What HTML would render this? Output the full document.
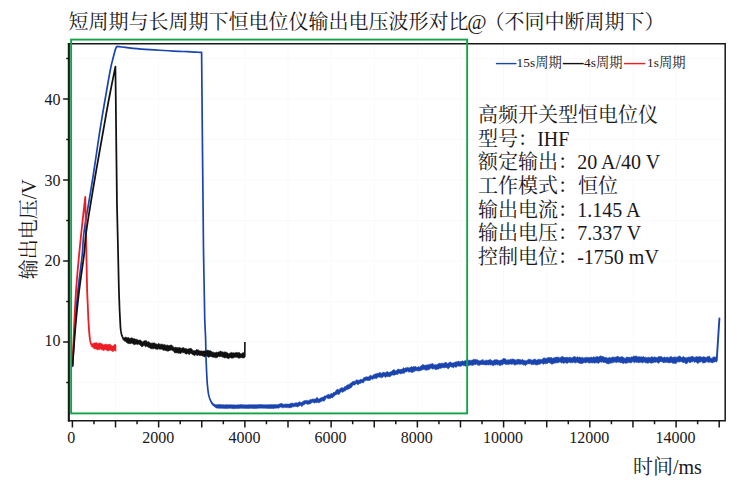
<!DOCTYPE html>
<html lang="zh"><head><meta charset="utf-8"><title>恒电位仪输出电压波形对比</title>
<style>html,body{margin:0;padding:0;background:#fff;}body{width:740px;height:480px;overflow:hidden;font-family:"Liberation Serif",serif;}svg{display:block}</style>
</head><body>
<svg width="740" height="480" viewBox="0 0 740 480" font-family="'Liberation Serif', 'Noto Serif CJK SC', serif">
<rect width="740" height="480" fill="#fff"/>
<path d="M115.52 43.7V420.7M158.64 43.7V420.7M201.76 43.7V420.7M244.88 43.7V420.7M288 43.7V420.7M331.12 43.7V420.7M374.24 43.7V420.7M417.36 43.7V420.7M460.48 43.7V420.7M503.6 43.7V420.7M546.72 43.7V420.7M589.84 43.7V420.7M632.96 43.7V420.7M676.08 43.7V420.7M69.4 382.4H725.2M69.4 341.9H725.2M69.4 301.4H725.2M69.4 260.9H725.2M69.4 220.4H725.2M69.4 179.9H725.2M69.4 139.4H725.2M69.4 98.9H725.2M69.4 58.4H725.2" stroke="#f9f9fc" stroke-width="1" fill="none"/>
<path d="M72.4 420.7v6.7M93.96 420.7v3.6M115.52 420.7v6.7M137.08 420.7v3.6M158.64 420.7v6.7M180.2 420.7v3.6M201.76 420.7v6.7M223.32 420.7v3.6M244.88 420.7v6.7M266.44 420.7v3.6M288 420.7v6.7M309.56 420.7v3.6M331.12 420.7v6.7M352.68 420.7v3.6M374.24 420.7v6.7M395.8 420.7v3.6M417.36 420.7v6.7M438.92 420.7v3.6M460.48 420.7v6.7M482.04 420.7v3.6M503.6 420.7v6.7M525.16 420.7v3.6M546.72 420.7v6.7M568.28 420.7v3.6M589.84 420.7v6.7M611.4 420.7v3.6M632.96 420.7v6.7M654.52 420.7v3.6M676.08 420.7v6.7M697.64 420.7v3.6M719.2 420.7v6.7M69.4 382.4h-3.2M69.4 341.9h-6.3M69.4 301.4h-3.2M69.4 260.9h-6.3M69.4 220.4h-3.2M69.4 179.9h-6.3M69.4 139.4h-3.2M69.4 98.9h-6.3M69.4 58.4h-3.2" stroke="#1a1718" stroke-width="1.5" fill="none"/>
<path d="M67.9 43.7H725.95M67.9 420.7H725.95M725.2 43.7V420.7" stroke="#1a1718" stroke-width="1.5" fill="none"/>
<path d="M68.85 42.95V421.45" stroke="#1a1718" stroke-width="2.1" fill="none"/>
<path d="M72.5 366.3L72.77 361.73L73.13 355.36L73.56 347.84L74.04 339.83L74.53 332L75 325L75.46 318.8L75.92 312.87L76.39 307.11L76.89 301.43L77.42 295.76L78 290L78.65 284.05L79.39 277.96L80.16 271.88L80.91 265.93L81.61 260.25L82.2 255L82.6 250.54L82.83 246.85L83 243.44L83.23 239.81L83.62 235.5L84.3 230L85.32 223.11L86.61 215.19L88.06 206.56L89.59 197.59L91.1 188.62L92.5 180L93.82 171.44L95.14 162.59L96.45 153.75L97.71 145.19L98.9 137.18L100 130L100.97 123.84L101.84 118.52L102.64 113.75L103.4 109.26L104.18 104.77L105 100L105.9 94.77L106.86 89.26L107.82 83.75L108.74 78.52L109.59 73.84L110.3 70L110.88 67.06L111.37 64.81L111.78 63.12L112.11 61.85L112.38 60.86L112.6 60L114.5 52.5L114.85 51.23L115.14 50.22L115.42 49.37L115.7 48.6L116.03 47.88L116.38 47.26L116.68 46.76L116.9 46.4L119.01 46.66L121.86 47.01L125.26 47.44L129.04 47.89L133.02 48.32L137 48.7L141.1 49.03L145.49 49.35L150.07 49.66L154.74 49.95L159.42 50.23L164 50.5L168.69 50.77L173.61 51.03L178.53 51.28L183.21 51.51L187.45 51.72L191 51.9L193.84 52.04L196.14 52.15L197.99 52.24L199.46 52.3L200.64 52.36L201.6 52.4L202.5 150L203.5 250L204.75 320L205.6 338L206.1 360L206.6 372L207.2 383L207.38 384.7L207.62 387.16L207.91 389.79L208.2 392L208.46 393.63L208.73 395L209.03 396.24L209.4 397.5L209.86 398.84L210.4 400.19L210.96 401.44L211.5 402.5L212 403.33L212.47 403.98L212.97 404.52L213.5 405L214.08 405.43L214.69 405.79L215.33 406.07L216 406.3L216.79 406.45L217.66 406.53L218.45 406.57L219 406.6" stroke="#1b45ae" stroke-width="1.7" fill="none" stroke-linejoin="round" stroke-linecap="round"/>
<path d="M211.5 401.88L211.75 402.13L212 402.31L212.25 402.46L212.5 402.75L212.75 403.02L213 403.35L213.25 403.68L213.5 403.85L213.86 403.99L214.21 404.1L214.57 404.28L214.93 404.44L215.29 404.57L215.64 404.64L216 404.76L216.43 404.74L216.86 404.64L217.29 404.61L217.71 404.56L218.14 404.57L218.57 404.53L219 404.51L219.4 404.54L219.8 404.57L220.2 404.6L220.61 404.62L221.01 404.67L221.41 404.69L221.81 404.65L222.21 404.78L222.61 404.63L223.02 404.57L223.42 404.71L223.82 404.72L224.22 404.84L224.62 404.9L225.02 404.78L225.42 404.74L225.83 404.67L226.23 404.63L226.63 404.7L227.03 404.64L227.43 404.64L227.83 404.76L228.23 404.79L228.64 404.85L229.04 404.91L229.44 404.79L229.84 404.68L230.24 404.68L230.64 404.61L231.05 404.71L231.45 404.84L231.85 404.83L232.25 404.87L232.65 404.89L233.05 404.87L233.45 404.83L233.86 404.82L234.26 404.87L234.66 404.93L235.06 405.01L235.46 405.03L235.86 404.95L236.27 404.94L236.67 404.92L237.07 404.85L237.47 404.84L237.87 404.73L238.27 404.7L238.67 404.83L239.08 404.78L239.48 404.85L239.88 404.74L240.28 404.62L240.68 404.56L241.08 404.6L241.48 404.57L241.89 404.63L242.29 404.7L242.69 404.7L243.09 404.73L243.49 404.78L243.89 404.68L244.3 404.79L244.7 404.9L245.1 404.83L245.5 404.8L245.9 404.78L246.3 404.74L246.7 404.91L247.11 404.91L247.51 404.84L247.91 404.74L248.31 404.68L248.71 404.69L249.11 404.77L249.52 404.75L249.92 404.73L250.32 404.69L250.72 404.69L251.12 404.75L251.52 404.69L251.92 404.76L252.33 404.76L252.73 404.76L253.13 404.8L253.53 404.87L253.93 404.84L254.33 404.76L254.73 404.77L255.14 404.7L255.54 404.67L255.94 404.7L256.34 404.7L256.74 404.75L257.14 404.78L257.55 404.69L257.95 404.58L258.35 404.54L258.75 404.6L259.15 404.64L259.55 404.63L259.95 404.58L260.36 404.51L260.76 404.46L261.16 404.46L261.56 404.45L261.96 404.56L262.36 404.68L262.77 404.74L263.17 404.72L263.57 404.65L263.97 404.7L264.37 404.69L264.77 404.7L265.17 404.83L265.58 404.84L265.98 404.87L266.38 404.8L266.78 404.73L267.18 404.65L267.58 404.65L267.98 404.64L268.39 404.66L268.79 404.64L269.19 404.65L269.59 404.67L269.99 404.59L270.39 404.61L270.8 404.47L271.2 404.58L271.6 404.65L272 404.65L272.4 404.67L272.8 404.6L273.2 404.57L273.6 404.62L274 404.68L274.4 404.58L274.8 404.64L275.2 404.6L275.6 404.43L276 404.57L276.4 404.65L276.8 404.62L277.2 404.65L277.6 404.63L278 404.6L278.4 404.37L278.8 404.25L279.2 404.14L279.6 403.96L280 403.85L280.4 403.75L280.81 403.37L281.21 403.29L281.61 403.52L282.02 403.59L282.42 403.76L282.82 404.19L283.23 404.33L283.63 404.28L284.03 404.44L284.44 404.14L284.84 404.06L285.24 404.07L285.65 403.97L286.05 404.01L286.45 404.14L286.85 403.99L287.26 404L287.66 404.04L288.06 403.95L288.47 404.05L288.87 404.14L289.27 404.12L289.68 403.95L290.08 403.78L290.48 403.2L290.89 403.36L291.29 403.12L291.69 403.19L292.1 403.23L292.5 403.09L292.9 403.22L293.31 403.44L293.71 403.75L294.11 403.34L294.52 403.22L294.92 402.8L295.32 402.72L295.73 403.19L296.13 402.82L296.53 402.72L296.94 402.86L297.34 403.17L297.74 402.68L298.15 402.64L298.55 402.43L298.95 401.67L299.35 402.01L299.76 401.82L300.16 401.89L300.56 402.26L300.97 402.39L301.37 402.5L301.77 402.45L302.18 402.44L302.58 401.53L302.98 401.5L303.39 401.22L303.79 400.82L304.19 401.05L304.6 400.56L305 400.34L305.4 400.66L305.81 400.54L306.21 400.44L306.61 400.33L307.02 400.45L307.42 400.22L307.82 400.89L308.23 400.54L308.63 400.81L309.03 400.66L309.44 400.11L309.84 399.82L310.24 399.42L310.65 399.35L311.05 399.5L311.45 399.62L311.85 399.4L312.26 399.16L312.66 398.88L313.06 398.72L313.47 399.06L313.87 399.2L314.27 399.19L314.68 399.05L315.08 399.08L315.48 398.7L315.89 398.6L316.29 398.34L316.69 397.62L317.1 397.2L317.5 398L317.89 398.23L318.28 398.64L318.67 399.07L319.06 398.82L319.45 398.69L319.84 398.59L320.23 398.22L320.62 397.79L321.02 397.67L321.41 397.72L321.8 397.39L322.19 397.39L322.58 397.27L322.97 397.12L323.36 396.93L323.75 396.66L324.14 396.2L324.53 395.84L324.92 395.96L325.31 395.95L325.7 395.97L326.09 395.75L326.48 395.17L326.88 394.9L327.27 394.97L327.66 394.81L328.05 394.3L328.44 394.28L328.83 394.44L329.22 394.58L329.61 394.9L330 394.66L330.37 394.29L330.74 394.02L331.1 393.14L331.47 393.41L331.84 393.58L332.21 393.98L332.57 393.69L332.94 393.04L333.31 392.54L333.68 392.11L334.04 392.14L334.41 392.34L334.78 392.17L335.15 391.81L335.51 391.09L335.88 390.64L336.25 390.14L336.62 389.83L336.99 389.72L337.35 389L337.72 389.16L338.09 389.14L338.46 389.75L338.82 390.03L339.19 389.88L339.56 389.55L339.93 388.51L340.29 389.06L340.66 388.14L341.03 388.1L341.4 387.8L341.76 387.49L342.13 387.9L342.5 387.8L342.86 387.8L343.21 388.35L343.57 387.86L343.93 387.72L344.29 387.08L344.64 386.38L345 386.95L345.36 386.61L345.71 386.24L346.07 386.38L346.43 385.51L346.79 385.45L347.14 385.05L347.5 384.99L347.86 384.7L348.21 385.04L348.57 384.69L348.93 383.92L349.29 384.17L349.64 384.44L350 383.54L350.36 383.51L350.71 382.97L351.07 382.66L351.43 382.79L351.79 382.28L352.14 381.87L352.5 381.59L352.86 381.45L353.21 381.5L353.57 381.26L353.93 381.16L354.29 381.2L354.64 381.28L355 381.4L355.38 381.26L355.76 380.76L356.14 379.7L356.52 379.88L356.89 379.86L357.27 380.1L357.65 380.21L358.03 380.2L358.41 380.2L358.79 380.4L359.17 380.32L359.55 379.96L359.92 379.71L360.3 379.58L360.68 379.11L361.06 379.48L361.44 379.53L361.82 379.36L362.2 379.67L362.58 379.2L362.95 378.75L363.33 378.13L363.71 377.59L364.09 377.27L364.47 377.61L364.85 377.59L365.23 377.2L365.61 377.08L365.98 376.84L366.36 376.58L366.74 377.14L367.12 376.93L367.5 377.07L367.89 376.73L368.28 376.69L368.67 377.08L369.06 376.78L369.45 375.88L369.84 375.5L370.23 375.14L370.62 375.22L371.02 375.88L371.41 376.14L371.8 375.55L372.19 376.06L372.58 375.84L372.97 375.45L373.36 374.92L373.75 374.32L374.14 374.23L374.53 374.45L374.92 374.2L375.31 374.06L375.7 373.84L376.09 373.83L376.48 373.44L376.88 373.64L377.27 373.4L377.66 373.29L378.05 373.3L378.44 373.22L378.83 373.03L379.22 372.62L379.61 372.43L380 372.38L380.4 372.67L380.81 372.96L381.21 373.21L381.61 373.18L382.02 373.18L382.42 372.7L382.82 372.3L383.23 372.61L383.63 372.09L384.03 372.17L384.44 372.74L384.84 372.38L385.24 372.4L385.65 372.7L386.05 372.22L386.45 372.16L386.85 371.86L387.26 371.37L387.66 371.82L388.06 372.03L388.47 372.18L388.87 372.8L389.27 372.29L389.68 372.23L390.08 371.87L390.48 371.73L390.89 371.72L391.29 371.58L391.69 371.55L392.1 371.06L392.5 370.43L392.89 370.08L393.28 369.7L393.67 369.72L394.06 369.7L394.45 369.81L394.84 370.18L395.23 370.43L395.62 370.91L396.02 371.03L396.41 370.38L396.8 370.21L397.19 370.04L397.58 369.18L397.97 369.43L398.36 369L398.75 369.11L399.14 369.2L399.53 369.39L399.92 369.68L400.31 369.58L400.7 369.49L401.09 368.93L401.48 369.03L401.88 369.59L402.27 369.3L402.66 368.98L403.05 368.23L403.44 367.6L403.83 367.89L404.22 368.42L404.61 368.54L405 368.22L405.4 367.84L405.81 367.65L406.21 367.53L406.61 368.31L407.02 367.74L407.42 367.46L407.82 367.37L408.23 367.51L408.63 368.07L409.03 368.21L409.44 367.82L409.84 367.74L410.24 367.1L410.65 367.36L411.05 367.26L411.45 366.6L411.85 366.81L412.26 366.95L412.66 366.93L413.06 367L413.47 366.8L413.87 366.34L414.27 367.02L414.68 366.91L415.08 366.32L415.48 366.57L415.89 366.21L416.29 366.97L416.69 367.47L417.1 367.34L417.5 367.37L417.9 367.08L418.31 366.71L418.71 366.54L419.11 366.93L419.52 367.13L419.92 366.96L420.32 366.27L420.73 366.01L421.13 365.73L421.53 365.81L421.94 365.28L422.34 364.72L422.74 364.48L423.15 364.81L423.55 364.82L423.95 364.81L424.35 365.53L424.76 365.13L425.16 365.2L425.56 365.3L425.97 364.84L426.37 365.28L426.77 364.99L427.18 364.74L427.58 365.18L427.98 364.61L428.39 364.78L428.79 364.47L429.19 364.72L429.6 364.33L430 364.13L430.4 364.42L430.81 363.73L431.21 364.24L431.61 363.71L432.02 363.4L432.42 363.56L432.82 363.49L433.23 363.76L433.63 364.52L434.03 364.98L434.44 365L434.84 364.64L435.24 364.71L435.65 364.4L436.05 364.88L436.45 364.76L436.85 364.44L437.26 364.35L437.66 364.3L438.06 364.24L438.47 363.51L438.87 363.36L439.27 363.07L439.68 363.54L440.08 363.29L440.48 363.57L440.89 363.43L441.29 363.04L441.69 363.47L442.1 363.63L442.5 362.82L442.9 363.39L443.31 363.38L443.71 363.48L444.11 363.42L444.52 362.68L444.92 362.24L445.32 362.39L445.73 362.6L446.13 362.74L446.53 362.57L446.94 362.9L447.34 363.59L447.74 363.94L448.15 363.6L448.55 362.82L448.95 362.57L449.35 362.47L449.76 362.46L450.16 362.1L450.56 362.05L450.97 362.14L451.37 362.49L451.77 363.3L452.18 363.07L452.58 362.96L452.98 363.09L453.39 362.85L453.79 362.98L454.19 362.78L454.6 362.05L455 362.5L455.4 361.92L455.8 361.73L456.2 361.86L456.6 361.8L457 361.51L457.4 361.65L457.8 361.29L458.2 361.24L458.6 361.19L459 361.35L459.4 361.5L459.8 361.91L460.2 361.78L460.6 361.58L461 361.3L461.41 361.38L461.81 360.96L462.22 360.92L462.62 360.92L463.03 360.86L463.44 361.51L463.84 361.28L464.25 360.94L464.66 360.78L465.06 360.92L465.47 360.71L465.88 360.33L466.28 360.18L466.69 359.58L467.09 359.99L467.5 359.75L467.9 359.9L468.31 360.47L468.71 360.16L469.11 360.15L469.52 360.22L469.92 360.06L470.32 360.08L470.73 360.65L471.13 360.25L471.53 360.38L471.94 360.33L472.34 359.95L472.74 359.89L473.15 359.82L473.55 359.32L473.95 359.23L474.35 359.32L474.76 359.44L475.16 359.23L475.56 359.26L475.97 359.73L476.37 359.49L476.77 359.88L477.18 359.95L477.58 359.62L477.98 360.19L478.39 360.71L478.79 360.4L479.19 360.66L479.6 360.64L480 360.55L480.4 360.45L480.81 360.67L481.21 360.26L481.61 360.14L482.02 360.22L482.42 359.87L482.82 359.34L483.23 359.77L483.63 360.42L484.03 360.91L484.44 360.97L484.84 360.74L485.24 360.22L485.65 360.13L486.05 360.03L486.45 360.03L486.85 360.38L487.26 360.52L487.66 360.24L488.06 360.07L488.47 360.11L488.87 360.13L489.27 359.75L489.68 359.63L490.08 359.38L490.48 359.47L490.89 359.84L491.29 360.1L491.69 360.47L492.1 360.81L492.5 360.78L492.9 360.81L493.31 361.03L493.71 360.27L494.11 360.1L494.52 359.67L494.92 359.84L495.32 359.88L495.73 359.54L496.13 359.62L496.53 359.67L496.94 359.86L497.34 360.11L497.74 359.66L498.15 360.24L498.55 360.62L498.95 360.58L499.35 360.63L499.76 360.06L500.16 360.21L500.56 360.35L500.97 360.11L501.37 359.97L501.77 359.89L502.18 359.65L502.58 359.07L502.98 358.65L503.39 358.51L503.79 358.2L504.19 358.61L504.6 358.61L505 358.94L505.4 358.82L505.8 359.06L506.2 359.67L506.6 360.11L507 360.23L507.4 360.27L507.8 359.62L508.2 359.75L508.6 359.91L509 359.57L509.4 359.66L509.8 359.69L510.2 359.58L510.6 359.33L511 359.25L511.4 359.21L511.8 359.19L512.2 359.29L512.6 358.79L513 359.05L513.4 359.32L513.8 359.05L514.2 359.48L514.6 359.7L515 359.4L515.4 360.29L515.8 359.98L516.2 360.17L516.6 360.07L517 359.19L517.4 359.56L517.8 359.21L518.2 359.06L518.6 359.4L519 359.26L519.4 359.55L519.8 359.46L520.2 359.33L520.6 359.89L521 359.97L521.4 360.01L521.8 359.99L522.2 359.27L522.6 359.4L523 359.82L523.4 360.37L523.8 360.37L524.2 360.19L524.6 360.42L525 360.58L525.4 360.68L525.8 360.7L526.2 360.48L526.6 360.51L527 360.43L527.4 360.2L527.8 359.95L528.2 359.22L528.6 359.17L529 359.46L529.4 359.09L529.8 359.61L530.2 359.38L530.6 359.36L531 359.89L531.4 359.88L531.8 360.21L532.2 360.27L532.6 360.06L533 359.57L533.4 359.72L533.8 359.55L534.2 359.32L534.6 359.07L535 358.9L535.4 359.14L535.8 359.65L536.2 359.96L536.6 360.1L537 360.27L537.4 359.8L537.8 359.6L538.2 359.22L538.6 359.26L539 359.37L539.4 359.18L539.8 359.52L540.2 359.39L540.6 359.32L541 359.78L541.4 359.76L541.8 359.58L542.2 358.94L542.6 358.9L543 358.37L543.4 358.19L543.8 358.14L544.2 357.64L544.6 358.12L545 358.48L545.4 358.33L545.8 358.46L546.2 358.31L546.61 358.39L547.01 358.53L547.41 357.85L547.81 357.45L548.21 357.51L548.61 357.16L549.01 357.61L549.42 357.72L549.82 357.67L550.22 357.64L550.62 357.48L551.02 357.42L551.42 357.48L551.82 357.72L552.23 358.22L552.63 358.27L553.03 358.31L553.43 358.11L553.83 357.83L554.23 357.9L554.64 357.53L555.04 357.28L555.44 357.48L555.84 356.91L556.24 356.9L556.64 357.2L557.04 357.06L557.45 357.37L557.85 357.43L558.25 357.34L558.65 357.12L559.05 357.14L559.45 358L559.85 358.22L560.26 357.92L560.66 357.22L561.06 356.82L561.46 356.66L561.86 356.9L562.26 356.62L562.66 356.38L563.07 356.73L563.47 356.93L563.87 356.99L564.27 357.45L564.67 357.59L565.07 357.29L565.47 357.5L565.88 357.21L566.28 356.98L566.68 357.67L567.08 357.68L567.48 357.1L567.88 357.42L568.28 357.41L568.69 357.8L569.09 357.56L569.49 357.33L569.89 357.07L570.29 356.98L570.69 357.38L571.09 357.46L571.5 357.88L571.9 358.16L572.3 357.62L572.7 357.39L573.1 356.73L573.5 357.07L573.91 356.52L574.31 356.57L574.71 356.67L575.11 356.71L575.51 357.03L575.91 357.24L576.31 357.51L576.72 357.54L577.12 356.76L577.52 356.92L577.92 356.71L578.32 357.51L578.72 357.71L579.12 357.12L579.53 357.09L579.93 357.02L580.33 357.4L580.73 357.37L581.13 357.41L581.53 357.73L581.93 357.7L582.34 357.19L582.74 357.5L583.14 357.46L583.54 358.16L583.94 358.13L584.34 357.95L584.74 357.69L585.15 357.15L585.55 357.22L585.95 357.4L586.35 357.28L586.75 358L587.15 357.91L587.55 357.22L587.96 357.18L588.36 357.44L588.76 357.51L589.16 357.8L589.56 357.57L589.96 357.33L590.36 357.45L590.77 357.19L591.17 356.98L591.57 357.19L591.97 357.24L592.37 357.66L592.77 357.42L593.18 357.1L593.58 356.9L593.98 356.61L594.38 357.14L594.78 357.17L595.18 357.23L595.58 357.06L595.99 356.84L596.39 356.87L596.79 356.68L597.19 356.68L597.59 356.54L597.99 356.85L598.39 356.88L598.8 356.94L599.2 356.82L599.6 356.4L600 356.18L600.4 355.75L600.8 356.07L601.2 356.25L601.6 356.01L602 356.69L602.4 356.28L602.8 356.35L603.2 357.11L603.6 356.74L604 356.79L604.4 357.38L604.8 357.25L605.2 357.63L605.6 357.32L606 357.27L606.4 357.18L606.8 358.01L607.2 358.04L607.6 358.12L608 358.22L608.4 357.86L608.8 358.07L609.2 357.47L609.6 357.37L610 357.39L610.4 358L610.8 357.93L611.2 357.64L611.6 357.55L612 357.03L612.4 357.07L612.8 357.2L613.2 357.07L613.6 357.04L614 357.33L614.4 356.98L614.8 357.45L615.2 357.09L615.6 357.27L616 357.27L616.4 356.9L616.8 356.77L617.2 356.05L617.6 356.09L618 356.64L618.4 356.75L618.8 357.09L619.2 357.35L619.6 357.12L620 357.3L620.4 357.07L620.8 357.06L621.2 356.71L621.6 356.83L622 356.56L622.4 356.76L622.8 357.03L623.2 357.16L623.6 357.39L624 357.74L624.4 357.88L624.8 358.16L625.2 358.52L625.6 358.18L626 357.57L626.4 357.03L626.8 356.93L627.2 357.03L627.6 357.29L628 357.16L628.4 357.24L628.8 357.22L629.2 357.1L629.6 357.62L630 357.58L630.4 357.5L630.8 357.56L631.2 356.71L631.6 357.01L632 356.87L632.4 357.09L632.8 356.97L633.2 356.3L633.6 356.15L634 355.85L634.4 356.11L634.8 356.55L635.2 356.22L635.6 356.12L636 356.28L636.4 355.81L636.8 356.46L637.2 356.64L637.6 356.66L638 356.95L638.4 356.75L638.8 356.95L639.2 356.84L639.6 356.57L640 357.15L640.4 357.07L640.8 356.84L641.2 356.82L641.6 356.84L642 356.89L642.4 357L642.8 356.91L643.2 356.4L643.6 356.47L644 356.81L644.4 357.25L644.8 357.47L645.2 356.92L645.6 357.28L646 357.2L646.4 357.5L646.8 357.84L647.2 357.7L647.6 357.36L648 357.45L648.4 357.15L648.8 357.31L649.2 357.44L649.6 357.52L650 357.43L650.4 357.43L650.8 357.43L651.2 356.85L651.6 356.74L652.01 356.83L652.41 356.75L652.81 357.62L653.21 357.34L653.61 357.24L654.01 356.99L654.41 356.87L654.81 357.11L655.22 356.92L655.62 357.33L656.02 357.47L656.42 357.28L656.82 357.7L657.22 357.68L657.62 357.22L658.02 356.96L658.43 356.73L658.83 356.49L659.23 356.71L659.63 356.3L660.03 356.2L660.43 356.47L660.83 356.43L661.23 356.6L661.63 356.72L662.04 356.82L662.44 357.32L662.84 357.61L663.24 357.5L663.64 357.82L664.04 357.2L664.44 357.1L664.84 357.09L665.25 357.34L665.65 357.47L666.05 357.8L666.45 357.36L666.85 357.14L667.25 357.16L667.65 357L668.05 357.4L668.46 357.74L668.86 357.17L669.26 357.41L669.66 357.16L670.06 356.72L670.46 356.75L670.86 356.62L671.26 356.48L671.67 356.96L672.07 357.27L672.47 357.21L672.87 357.55L673.27 357.3L673.67 357.34L674.07 357.27L674.47 357.11L674.87 356.62L675.28 356.99L675.68 357.13L676.08 357.11L676.48 357.27L676.88 357.46L677.28 357.08L677.68 356.87L678.08 356.63L678.49 356.55L678.89 356.17L679.29 356.5L679.69 355.79L680.09 356.09L680.49 356.68L680.89 356.96L681.29 357.5L681.7 357.48L682.1 357.17L682.5 357.14L682.9 356.73L683.3 356.34L683.7 356.78L684.1 357.27L684.5 357.1L684.9 357.55L685.31 357.59L685.71 357.83L686.11 357.97L686.51 357.7L686.91 357.47L687.31 357.45L687.71 357.31L688.11 357.38L688.52 356.83L688.92 357.13L689.32 357.01L689.72 357.11L690.12 357.39L690.52 356.76L690.92 357.09L691.32 356.82L691.73 356.25L692.13 356.3L692.53 356.05L692.93 356.52L693.33 357.05L693.73 357.27L694.13 357.55L694.53 357.33L694.93 357.41L695.34 357.09L695.74 356.89L696.14 357.09L696.54 356.52L696.94 356.9L697.34 356.85L697.74 356.68L698.14 357.23L698.55 356.75L698.95 356.63L699.35 356.7L699.75 356.35L700.15 356.64L700.55 356.64L700.95 356.84L701.35 357L701.76 356.9L702.16 357.43L702.56 357.09L702.96 356.91L703.36 356.59L703.76 356.72L704.16 357.09L704.56 356.92L704.97 356.92L705.37 356.93L705.77 357.67L706.17 357.38L706.57 357.31L706.97 356.83L707.37 356.61L707.77 356.82L708.17 356.81L708.58 356.26L708.98 356.25L709.38 355.96L709.78 356.71L710.18 357.48L710.58 357.89L710.98 358.3L711.38 358.4L711.79 358.1L712.19 358.19L712.59 357.6L712.99 357.14L713.39 357.18L713.79 356.57L714.19 356.86L714.59 356.99L715 357.11L715.4 357.19L715.8 357.13L716.2 356.7L716.6 357.07L716.6 362.26L716.2 361.82L715.8 361.83L715.4 361.46L715 361.75L714.59 362.08L714.19 361.9L713.79 362.03L713.39 362.47L712.99 362.13L712.59 362.84L712.19 363.08L711.79 362.73L711.38 362.55L710.98 362.2L710.58 362.33L710.18 362.1L709.78 362.17L709.38 362.14L708.98 362.46L708.58 362.28L708.17 362.53L707.77 362.32L707.37 361.81L706.97 361.8L706.57 361.85L706.17 361.84L705.77 362.35L705.37 362.26L704.97 362.94L704.56 362.78L704.16 362.9L703.76 362.96L703.36 362.81L702.96 363.28L702.56 362.65L702.16 362.12L701.76 361.55L701.35 361.41L700.95 362.08L700.55 362.06L700.15 361.98L699.75 362.35L699.35 362.1L698.95 362.5L698.55 363.08L698.14 363.26L697.74 363.32L697.34 363.39L696.94 362.82L696.54 362.19L696.14 362.22L695.74 361.86L695.34 362.06L694.93 362.41L694.53 362.36L694.13 362.16L693.73 361.57L693.33 361.18L692.93 361.54L692.53 361.79L692.13 361.99L691.73 362.11L691.32 361.82L690.92 362L690.52 362.41L690.12 363.08L689.72 362.88L689.32 362.51L688.92 361.88L688.52 361.48L688.11 362.1L687.71 362.64L687.31 363.26L686.91 363.3L686.51 363.8L686.11 363.91L685.71 363.94L685.31 363.36L684.9 362.69L684.5 362.35L684.1 362.39L683.7 362.43L683.3 362.57L682.9 362.54L682.5 362.41L682.1 362.06L681.7 362.02L681.29 361.48L680.89 361.68L680.49 361.58L680.09 361.51L679.69 361.9L679.29 362.34L678.89 362.1L678.49 362.05L678.08 361.33L677.68 361.79L677.28 362.15L676.88 362.73L676.48 363.04L676.08 363.37L675.68 363.78L675.28 363.53L674.87 363.45L674.47 363.29L674.07 362.94L673.67 363.3L673.27 363.3L672.87 363.47L672.47 362.99L672.07 362.82L671.67 362.63L671.26 362.07L670.86 362.59L670.46 362.45L670.06 362.4L669.66 362.94L669.26 362.96L668.86 362.72L668.46 363.13L668.05 362.5L667.65 362.32L667.25 362.37L666.85 362.07L666.45 362.46L666.05 362.55L665.65 362.21L665.25 362.69L664.84 361.99L664.44 362.43L664.04 362.98L663.64 362.79L663.24 362.79L662.84 362.38L662.44 361.87L662.04 361.99L661.63 361.7L661.23 361.47L660.83 361.86L660.43 361.47L660.03 362.01L659.63 362.33L659.23 362.56L658.83 363.14L658.43 363.34L658.02 363.29L657.62 362.95L657.22 362.25L656.82 361.79L656.42 362.07L656.02 362.41L655.62 362.35L655.22 362.29L654.81 361.98L654.41 362.29L654.01 362.69L653.61 362.52L653.21 363.03L652.81 362.88L652.41 362.7L652.01 363.24L651.6 363.02L651.2 363.21L650.8 363.1L650.4 362.94L650 362.57L649.6 362.43L649.2 362.44L648.8 362.75L648.4 363.16L648 363.26L647.6 363.13L647.2 362.99L646.8 362.66L646.4 363.1L646 363L645.6 362.78L645.2 362.65L644.8 362.29L644.4 362.16L644 361.93L643.6 362.04L643.2 362.52L642.8 362.64L642.4 363.14L642 362.85L641.6 362.35L641.2 362.22L640.8 362.46L640.4 362.31L640 362.56L639.6 362.54L639.2 362.73L638.8 362.57L638.4 362.76L638 362.64L637.6 362.19L637.2 362.62L636.8 362.53L636.4 362.17L636 362.14L635.6 362.1L635.2 362.12L634.8 362.62L634.4 362.86L634 362.6L633.6 362.31L633.2 361.76L632.8 361.49L632.4 361.83L632 362.18L631.6 362.61L631.2 363.09L630.8 362.81L630.4 362.99L630 362.81L629.6 362.5L629.2 362.45L628.8 362.33L628.4 362.84L628 362.55L627.6 362.94L627.2 362.89L626.8 362.98L626.4 363.1L626 363.18L625.6 363.45L625.2 362.89L624.8 362.68L624.4 363.02L624 362.84L623.6 363.51L623.2 363.5L622.8 363.44L622.4 363.32L622 362.6L621.6 363.04L621.2 362.52L620.8 362.66L620.4 362.79L620 362.33L619.6 362.21L619.2 362.19L618.8 361.83L618.4 362.47L618 362.22L617.6 361.95L617.2 362.18L616.8 362.52L616.4 362.7L616 362.82L615.6 362.4L615.2 361.85L614.8 361.97L614.4 362.26L614 362.26L613.6 362.59L613.2 362.8L612.8 362.44L612.4 362.78L612 362.42L611.6 362.95L611.2 363.34L610.8 363.27L610.4 363.29L610 362.89L609.6 363L609.2 363.79L608.8 363.9L608.4 363.85L608 363.76L607.6 363.53L607.2 364.03L606.8 363.72L606.4 363.25L606 362.8L605.6 362.62L605.2 362.78L604.8 362.48L604.4 362.91L604 362.46L603.6 362.49L603.2 362.41L602.8 362.02L602.4 361.72L602 362.32L601.6 362.36L601.2 362.23L600.8 362.22L600.4 361.63L600 361.78L599.6 362.33L599.2 362.77L598.8 363.43L598.39 363.28L597.99 363.1L597.59 362.95L597.19 362.87L596.79 362.56L596.39 362.93L595.99 362.75L595.58 362.43L595.18 363.14L594.78 363.01L594.38 363.17L593.98 363.06L593.58 362.74L593.18 362.84L592.77 362.57L592.37 363.16L591.97 363.01L591.57 362.77L591.17 362.7L590.77 362.75L590.36 362.82L589.96 363.07L589.56 363.12L589.16 363L588.76 363.13L588.36 362.58L587.96 362.17L587.55 362.3L587.15 362.18L586.75 362.37L586.35 362.49L585.95 363.07L585.55 362.99L585.15 362.7L584.74 362.66L584.34 362.15L583.94 362.6L583.54 363.02L583.14 363.04L582.74 363.41L582.34 363.56L581.93 363.92L581.53 363.18L581.13 363.37L580.73 363.15L580.33 363.74L579.93 363.62L579.53 362.89L579.12 363.13L578.72 362.87L578.32 362.88L577.92 362.85L577.52 362.09L577.12 362.33L576.72 362.5L576.31 362.14L575.91 362.74L575.51 362.72L575.11 363.29L574.71 362.72L574.31 362.24L573.91 362.07L573.5 362.34L573.1 362.53L572.7 362.79L572.3 362.68L571.9 362.86L571.5 362.53L571.09 362.6L570.69 362.67L570.29 362.92L569.89 362.49L569.49 362.32L569.09 362.36L568.69 361.97L568.28 362.51L567.88 363.01L567.48 363.13L567.08 363.62L566.68 363.36L566.28 362.99L565.88 362.64L565.47 362.82L565.07 362.65L564.67 362.76L564.27 363.04L563.87 363.41L563.47 363.43L563.07 362.92L562.66 362.68L562.26 362.77L561.86 363.15L561.46 363.04L561.06 362.61L560.66 362.37L560.26 362.12L559.85 362.05L559.45 362.24L559.05 361.86L558.65 362.45L558.25 363.08L557.85 362.61L557.45 362.9L557.04 362.64L556.64 362.79L556.24 362.93L555.84 362.86L555.44 363.04L555.04 362.88L554.64 363.29L554.23 363.36L553.83 363.33L553.43 363.43L553.03 363.75L552.63 363.88L552.23 364.32L551.82 364.17L551.42 363.83L551.02 363.69L550.62 363.37L550.22 363.22L549.82 363.11L549.42 362.83L549.01 362.97L548.61 362.3L548.21 362.85L547.81 363.19L547.41 363.42L547.01 363.75L546.61 363.6L546.2 363.29L545.8 363.35L545.4 363.97L545 364L544.6 363.46L544.2 363.53L543.8 363.89L543.4 364.37L543 364.34L542.6 363.81L542.2 363.36L541.8 363.13L541.4 363.23L541 363.23L540.6 363.63L540.2 364.29L539.8 364.17L539.4 364.32L539 364.18L538.6 364.12L538.2 364.65L537.8 364.73L537.4 364.91L537 365L536.6 364.82L536.2 364.99L535.8 364.82L535.4 364.74L535 364.38L534.6 364.11L534.2 364.55L533.8 364.67L533.4 364.53L533 364.47L532.6 364.47L532.2 364.58L531.8 364.74L531.4 364.56L531 364.41L530.6 363.6L530.2 363.7L529.8 363.84L529.4 363.94L529 364.26L528.6 363.7L528.2 363.63L527.8 363.62L527.4 364.18L527 364.3L526.6 364.78L526.2 365.01L525.8 365.3L525.4 365.43L525 365.46L524.6 364.84L524.2 364.77L523.8 364.84L523.4 365.12L523 365.09L522.6 364.45L522.2 364.08L521.8 364.04L521.4 364.12L521 364.27L520.6 364.4L520.2 364.3L519.8 364.29L519.4 364.49L519 364.13L518.6 363.97L518.2 364.08L517.8 363.92L517.4 364.57L517 364.29L516.6 364.29L516.2 364.56L515.8 364.56L515.4 365.2L515 364.96L514.6 365.18L514.2 364.57L513.8 364.05L513.4 364.31L513 363.98L512.6 363.74L512.2 364.38L511.8 364.15L511.4 364.4L511 364.29L510.6 364.06L510.2 364.03L509.8 363.91L509.4 364.06L509 364.44L508.6 365.07L508.2 364.58L507.8 364.49L507.4 364.2L507 364.06L506.6 364.76L506.2 364.3L505.8 364.54L505.4 364.36L505 364.11L504.6 363.96L504.19 363.6L503.79 363.65L503.39 364.13L502.98 364.05L502.58 365L502.18 365.29L501.77 364.61L501.37 365L500.97 364.73L500.56 365.05L500.16 365.95L499.76 365.57L499.35 365.5L498.95 365.07L498.55 364.73L498.15 364.59L497.74 364.75L497.34 365.13L496.94 364.55L496.53 364.58L496.13 364.23L495.73 364.8L495.32 365.24L494.92 364.92L494.52 364.64L494.11 364.77L493.71 365.27L493.31 366.05L492.9 365.51L492.5 365.48L492.1 364.79L491.69 364.62L491.29 365.1L490.89 364.95L490.48 365.2L490.08 364.76L489.68 364.73L489.27 364.6L488.87 364.96L488.47 364.9L488.06 364.7L487.66 364.59L487.26 364.88L486.85 364.97L486.45 364.84L486.05 365.2L485.65 364.94L485.24 364.84L484.84 364.85L484.44 364.79L484.03 364.98L483.63 364.67L483.23 364.46L482.82 364.29L482.42 364.95L482.02 364.5L481.61 364.64L481.21 364.46L480.81 364.35L480.4 364.94L480 365.19L479.6 365.13L479.19 365.51L478.79 365.24L478.39 365.34L477.98 365.43L477.58 364.95L477.18 364.58L476.77 364.1L476.37 364.11L475.97 364.19L475.56 364.75L475.16 364.94L474.76 364.46L474.35 364.65L473.95 364.45L473.55 364.9L473.15 365.6L472.74 365.33L472.34 365.58L471.94 365.28L471.53 365.32L471.13 365.06L470.73 365.08L470.32 364.88L469.92 365.13L469.52 365.45L469.11 365.17L468.71 365.75L468.31 365.49L467.9 365.58L467.5 365.69L467.09 365.64L466.69 365.89L466.28 365.83L465.88 365.92L465.47 366.2L465.06 365.83L464.66 365.74L464.25 365.76L463.84 365.54L463.44 365.71L463.03 365.37L462.62 364.89L462.22 365.4L461.81 365.81L461.41 365.97L461 366.34L460.6 366.19L460.2 366.15L459.8 366.51L459.4 366.11L459 366.23L458.6 366.16L458.2 365.99L457.8 365.8L457.4 366.12L457 366.45L456.6 367.02L456.2 367.36L455.8 367.39L455.4 366.95L455 366.91L454.6 366.46L454.19 366.86L453.79 367.79L453.39 367.8L452.98 367.64L452.58 367.35L452.18 366.84L451.77 367.34L451.37 366.88L450.97 366.8L450.56 366.69L450.16 366.21L449.76 367.16L449.35 367.73L448.95 368.17L448.55 368.67L448.15 368.68L447.74 368.65L447.34 367.9L446.94 367.52L446.53 367.53L446.13 367.69L445.73 367.64L445.32 367.62L444.92 367.7L444.52 367.66L444.11 367.96L443.71 368.12L443.31 367.59L442.9 367.78L442.5 367.6L442.1 367.87L441.69 367.98L441.29 368.05L440.89 368.61L440.48 368.3L440.08 368.06L439.68 368.47L439.27 368.12L438.87 368.97L438.47 369.18L438.06 369.15L437.66 369.09L437.26 369.23L436.85 369.26L436.45 369.59L436.05 369.99L435.65 369.64L435.24 369.34L434.84 369.32L434.44 368.63L434.03 368.62L433.63 368.97L433.23 368.65L432.82 369.21L432.42 368.94L432.02 368.67L431.61 368.4L431.21 368.37L430.81 368.35L430.4 368.24L430 368.77L429.6 369.41L429.19 369.29L428.79 369.76L428.39 369.93L427.98 369.75L427.58 370.07L427.18 369.7L426.77 370.01L426.37 370.26L425.97 370.17L425.56 370.15L425.16 369.86L424.76 369.71L424.35 369.62L423.95 369.23L423.55 369.35L423.15 369.87L422.74 369.86L422.34 369.69L421.94 369.99L421.53 370.27L421.13 370.09L420.73 370.7L420.32 370.51L419.92 370.58L419.52 371.12L419.11 370.96L418.71 371.01L418.31 371.02L417.9 371.07L417.5 370.65L417.1 370.46L416.69 370.78L416.29 370.69L415.89 370.56L415.48 370.72L415.08 371.21L414.68 371.37L414.27 371.72L413.87 371.32L413.47 371.83L413.06 372.46L412.66 372.26L412.26 372.48L411.85 372.18L411.45 372.36L411.05 372.53L410.65 372.15L410.24 371.73L409.84 371.64L409.44 371.88L409.03 372.34L408.63 372.05L408.23 371.74L407.82 371.12L407.42 371.11L407.02 371.49L406.61 371.96L406.21 371.98L405.81 371.92L405.4 372L405 372.35L404.61 372.76L404.22 373.46L403.83 373.24L403.44 373.37L403.05 373.1L402.66 373.08L402.27 373.55L401.88 373.48L401.48 373.58L401.09 373.88L400.7 373.96L400.31 373.65L399.92 373.43L399.53 373.38L399.14 372.9L398.75 373.58L398.36 373.76L397.97 374.24L397.58 374.43L397.19 374.67L396.8 374.28L396.41 374.29L396.02 374.64L395.62 374.56L395.23 375.01L394.84 375.07L394.45 375.1L394.06 375.28L393.67 375.33L393.28 375.03L392.89 375.02L392.5 375.1L392.1 374.89L391.69 375.33L391.29 375.62L390.89 375.7L390.48 376.49L390.08 376.71L389.68 376.63L389.27 376.94L388.87 376.57L388.47 376.18L388.06 376.8L387.66 376.38L387.26 376.64L386.85 376.39L386.45 376.78L386.05 376.96L385.65 377.35L385.24 377.43L384.84 376.76L384.44 376.6L384.03 376.11L383.63 376.34L383.23 376.8L382.82 377.37L382.42 377.57L382.02 377.47L381.61 377.87L381.21 377.5L380.81 377.37L380.4 377.46L380 376.82L379.61 377.24L379.22 377.21L378.83 377.09L378.44 377.07L378.05 376.9L377.66 377.41L377.27 378.05L376.88 378.55L376.48 378.57L376.09 378.57L375.7 378.34L375.31 378.59L374.92 378.24L374.53 378.54L374.14 378.48L373.75 378.42L373.36 379.12L372.97 379.41L372.58 379.14L372.19 379.2L371.8 378.74L371.41 379.09L371.02 379.55L370.62 379.78L370.23 380.15L369.84 380.39L369.45 380.41L369.06 380.83L368.67 380.45L368.28 380.6L367.89 380.55L367.5 380.56L367.12 380.61L366.74 380.29L366.36 380.49L365.98 380.51L365.61 380.53L365.23 380.81L364.85 380.8L364.47 381.21L364.09 381.74L363.71 382.39L363.33 383.02L362.95 383.12L362.58 382.62L362.2 382.88L361.82 382.35L361.44 382.86L361.06 382.88L360.68 382.95L360.3 383.65L359.92 383.63L359.55 383.49L359.17 383.85L358.79 384.17L358.41 384.3L358.03 385.11L357.65 384.41L357.27 383.95L356.89 384.05L356.52 383.64L356.14 383.42L355.76 384.32L355.38 384.11L355 384.88L354.64 384.95L354.29 385.25L353.93 385.28L353.57 384.78L353.21 384.95L352.86 385.26L352.5 385.89L352.14 386.22L351.79 387.18L351.43 387.38L351.07 387.32L350.71 388.09L350.36 387.98L350 388.21L349.64 388.8L349.29 388.35L348.93 388.91L348.57 389.09L348.21 389.2L347.86 389.36L347.5 389.63L347.14 389.51L346.79 389.77L346.43 389.62L346.07 390.03L345.71 390.02L345.36 390.98L345 391.08L344.64 390.68L344.29 391.41L343.93 391.49L343.57 391.66L343.21 391.76L342.86 391.74L342.5 392.57L342.13 392.11L341.76 392.02L341.4 391.72L341.03 391.79L340.66 392.28L340.29 392.76L339.93 392.77L339.56 393.63L339.19 394.42L338.82 394.83L338.46 394.57L338.09 393.99L337.72 393.96L337.35 394.11L336.99 394.44L336.62 394.5L336.25 394.53L335.88 394.65L335.51 395.04L335.15 395.35L334.78 395.4L334.41 396.11L334.04 396.19L333.68 396.71L333.31 396.95L332.94 397.44L332.57 397.46L332.21 398.08L331.84 397.96L331.47 397.22L331.1 397.94L330.74 398.23L330.37 398.18L330 398.64L329.61 398.3L329.22 398.48L328.83 398.58L328.44 398.81L328.05 398.76L327.66 398.4L327.27 398.16L326.88 397.65L326.48 397.56L326.09 398.54L325.7 398.86L325.31 399.73L324.92 400.25L324.53 400.71L324.14 401.36L323.75 401.18L323.36 400.86L322.97 400.53L322.58 400.94L322.19 400.99L321.8 401.15L321.41 401.42L321.02 401.43L320.62 401.71L320.23 402.02L319.84 402.5L319.45 402.42L319.06 402.5L318.67 402.7L318.28 402.66L317.89 402.41L317.5 402.31L317.1 402.39L316.69 402.43L316.29 402.71L315.89 402.64L315.48 402.58L315.08 402.97L314.68 402.77L314.27 403.16L313.87 402.79L313.47 402.52L313.06 402.38L312.66 402.1L312.26 402.53L311.85 402.63L311.45 402.71L311.05 403.39L310.65 403.24L310.24 403.92L309.84 404.06L309.44 403.98L309.03 404.08L308.63 403.9L308.23 404.24L307.82 404.4L307.42 404.41L307.02 404.1L306.61 403.86L306.21 403.75L305.81 403.54L305.4 404.03L305 403.83L304.6 404.35L304.19 404.88L303.79 404.98L303.39 404.86L302.98 405.42L302.58 405.52L302.18 406.15L301.77 406.77L301.37 406L300.97 405.42L300.56 405.18L300.16 405.25L299.76 405.81L299.35 405.99L298.95 406.18L298.55 406.37L298.15 406.66L297.74 406.95L297.34 406.97L296.94 406.78L296.53 406.46L296.13 406.51L295.73 406.73L295.32 406.27L294.92 406.23L294.52 406.65L294.11 406.83L293.71 406.85L293.31 406.71L292.9 406.54L292.5 407.05L292.1 407.44L291.69 407.29L291.29 407.65L290.89 407.52L290.48 407.47L290.08 407.82L289.68 407.94L289.27 407.94L288.87 407.68L288.47 407.56L288.06 407.38L287.66 407.59L287.26 407.51L286.85 407.79L286.45 407.72L286.05 407.53L285.65 407.55L285.24 407.4L284.84 407.4L284.44 407.26L284.03 407.46L283.63 407.68L283.23 407.82L282.82 407.79L282.42 407.8L282.02 407.43L281.61 407.33L281.21 407.23L280.81 406.97L280.4 407.17L280 407.37L279.6 407.6L279.2 408L278.8 408.16L278.4 408.23L278 408.14L277.6 407.95L277.2 408.04L276.8 408.03L276.4 408.19L276 408.13L275.6 408.14L275.2 408.27L274.8 408.28L274.4 408.36L274 408.48L273.6 408.5L273.2 408.59L272.8 408.57L272.4 408.49L272 408.47L271.6 408.46L271.2 408.44L270.8 408.49L270.39 408.58L269.99 408.54L269.59 408.45L269.19 408.43L268.79 408.38L268.39 408.41L267.98 408.52L267.58 408.43L267.18 408.41L266.78 408.35L266.38 408.33L265.98 408.42L265.58 408.34L265.17 408.28L264.77 408.35L264.37 408.32L263.97 408.3L263.57 408.34L263.17 408.25L262.77 408.18L262.36 408.21L261.96 408.17L261.56 408.12L261.16 408.2L260.76 408.19L260.36 408.15L259.95 408.06L259.55 408.14L259.15 408.23L258.75 408.24L258.35 408.3L257.95 408.28L257.55 408.31L257.14 408.48L256.74 408.51L256.34 408.62L255.94 408.58L255.54 408.54L255.14 408.51L254.73 408.47L254.33 408.59L253.93 408.51L253.53 408.49L253.13 408.48L252.73 408.44L252.33 408.46L251.92 408.47L251.52 408.36L251.12 408.19L250.72 408.25L250.32 408.33L249.92 408.39L249.52 408.54L249.11 408.55L248.71 408.44L248.31 408.41L247.91 408.44L247.51 408.41L247.11 408.54L246.7 408.5L246.3 408.49L245.9 408.47L245.5 408.35L245.1 408.4L244.7 408.32L244.3 408.38L243.89 408.37L243.49 408.41L243.09 408.32L242.69 408.3L242.29 408.31L241.89 408.3L241.48 408.37L241.08 408.4L240.68 408.23L240.28 408.33L239.88 408.28L239.48 408.38L239.08 408.53L238.67 408.61L238.27 408.61L237.87 408.54L237.47 408.54L237.07 408.54L236.67 408.59L236.27 408.6L235.86 408.58L235.46 408.55L235.06 408.57L234.66 408.64L234.26 408.61L233.86 408.69L233.45 408.68L233.05 408.68L232.65 408.61L232.25 408.57L231.85 408.5L231.45 408.39L231.05 408.4L230.64 408.24L230.24 408.28L229.84 408.3L229.44 408.24L229.04 408.43L228.64 408.37L228.23 408.47L227.83 408.55L227.43 408.56L227.03 408.61L226.63 408.51L226.23 408.51L225.83 408.39L225.42 408.45L225.02 408.56L224.62 408.44L224.22 408.49L223.82 408.47L223.42 408.36L223.02 408.47L222.61 408.43L222.21 408.35L221.81 408.32L221.41 408.2L221.01 408.29L220.61 408.38L220.2 408.3L219.8 408.35L219.4 408.26L219 408.3L218.57 408.3L218.14 408.22L217.71 408.23L217.29 408.12L216.86 408.02L216.43 408.02L216 407.76L215.64 407.58L215.29 407.4L214.93 407.04L214.57 406.73L214.21 406.37L213.86 406.04L213.5 405.82L213.25 405.54L213 405.13L212.75 404.73L212.5 404.43L212.25 404.01L212 403.65L211.75 403.34L211.5 402.88Z" fill="#1b45ae" stroke="#1b45ae" stroke-width="0.6" stroke-linejoin="round"/>
<path d="M716.7 360.5L719.4 318.5" stroke="#1b45ae" stroke-width="1.9" fill="none" stroke-linecap="round"/>
<path d="M72.5 366.3L72.68 361.73L72.93 355.36L73.23 347.84L73.56 339.83L73.89 332L74.2 325L74.5 318.77L74.79 312.76L75.09 306.92L75.4 301.21L75.73 295.59L76.1 290L76.5 284.45L76.94 278.96L77.39 273.56L77.86 268.26L78.33 263.07L78.8 258L79.25 253.16L79.69 248.56L80.14 244.07L80.6 239.56L81.08 234.92L81.6 230L82.2 224.4L82.89 218.12L83.6 211.7L84.27 205.67L84.84 200.56L85.25 196.9L85.9 230L87.1 290L88.4 320L88.55 322.28L88.76 325.58L88.99 329.09L89.2 332L89.38 334.13L89.56 335.89L89.73 337.4L89.9 338.75L90.07 339.93L90.24 340.9L90.41 341.73L90.6 342.5L90.83 343.23L91.09 343.88L91.33 344.42L91.5 344.8" stroke="#ee1c24" stroke-width="1.8" fill="none" stroke-linejoin="round"/>
<path d="M91.2 343.96L91.6 343.82L92 343.65L92.4 343.59L92.8 343.78L93.2 343.51L93.6 343.2L94 342.93L94.4 342.84L94.8 343.04L95.2 342.96L95.6 342.91L96 342.58L96.4 342.67L96.8 342.71L97.2 342.98L97.6 343.6L98 343.82L98.4 343.48L98.8 343.2L99.2 342.97L99.6 342.98L100 343.1L100.4 343.2L100.8 343.27L101.2 343.46L101.6 343.56L102 343.57L102.4 343.92L102.8 344.35L103.2 344.79L103.6 344.99L104 344.73L104.4 344.7L104.8 344.36L105.2 344L105.6 344.16L106 343.98L106.4 344.48L106.8 344.46L107.2 344.61L107.6 344.58L108 344.54L108.4 344.56L108.8 344.31L109.2 344.55L109.6 344.12L110 344.31L110.4 344.45L110.8 345.09L111.2 345.22L111.6 345.65L112 345.76L112.4 346L112.8 345.97L113.2 345.75L113.6 345.44L114 345.09L114.4 344.74L114.8 344.18L115.2 344.19L115.6 344.57L116 345.16L116 351.38L115.6 350.84L115.2 350.62L114.8 350.3L114.4 350.65L114 350.66L113.6 351.01L113.2 351.5L112.8 351.46L112.4 351.59L112 350.97L111.6 350.69L111.2 350.47L110.8 350.49L110.4 350.16L110 350.07L109.6 350.17L109.2 350.68L108.8 350.72L108.4 350.77L108 350.76L107.6 350.91L107.2 350.73L106.8 350.42L106.4 350.18L106 349.64L105.6 349.66L105.2 349.52L104.8 349.78L104.4 350.11L104 350.37L103.6 350.82L103.2 350.59L102.8 349.94L102.4 349.86L102 349.78L101.6 349.74L101.2 349.56L100.8 349.16L100.4 349.05L100 349.17L99.6 349.42L99.2 349.39L98.8 349.37L98.4 349.75L98 350.19L97.6 349.95L97.2 349.62L96.8 349.34L96.4 349.4L96 348.83L95.6 349.09L95.2 348.87L94.8 348.87L94.4 349.06L94 348.41L93.6 348.16L93.2 347.78L92.8 347.4L92.4 347.12L92 346.86L91.6 346.84L91.2 346.56Z" fill="#ee1c24" stroke="#ee1c24" stroke-width="0.6" stroke-linejoin="round"/>
<path d="M72.5 366.3L72.83 361.73L73.28 355.36L73.82 347.84L74.41 339.83L75.02 332L75.6 325L76.16 318.8L76.74 312.87L77.32 307.11L77.93 301.43L78.57 295.76L79.25 290L80 284.05L80.84 277.96L81.7 271.88L82.54 265.93L83.33 260.25L84 255L84.48 250.54L84.79 246.85L85.04 243.44L85.34 239.81L85.79 235.5L86.5 230L87.52 223.11L88.76 215.19L90.16 206.56L91.64 197.59L93.14 188.62L94.6 180L96.07 171.44L97.61 162.59L99.17 153.75L100.7 145.19L102.12 137.18L103.4 130L104.48 123.88L105.39 118.64L106.21 113.96L107 109.51L107.82 104.97L108.75 100L109.86 94.24L111.12 87.88L112.41 81.42L113.63 75.39L114.66 70.27L115.4 66.6L115.8 100L116.1 130L116.7 180L117 206L117.8 240L118.9 290L119.6 310L119.69 311.83L119.82 314.45L119.96 317.35L120.1 320L120.21 322.35L120.32 324.65L120.44 326.81L120.6 328.75L120.81 330.44L121.06 331.92L121.32 333.23L121.6 334.4L121.87 335.4L122.16 336.23L122.46 336.94L122.8 337.6L123.23 338.23L123.73 338.8L124.18 339.27L124.5 339.6" stroke="#111111" stroke-width="1.75" fill="none" stroke-linejoin="round"/>
<path d="M122.8 338.42L123.18 338.46L123.56 338.12L123.95 337.97L124.33 338.06L124.71 337.42L125.09 337.63L125.47 337.11L125.85 336.87L126.24 337.24L126.62 337.45L127 337.72L127.39 338.07L127.79 337.38L128.18 338.05L128.57 337.59L128.96 337.63L129.36 338.17L129.75 338.4L130.14 338.48L130.54 338.1L130.93 338.02L131.32 337.84L131.71 337.98L132.11 338.04L132.5 338.28L132.89 338.08L133.28 338.84L133.67 338.72L134.06 338.69L134.45 338.82L134.84 338.73L135.23 338.96L135.62 339.18L136.02 339.27L136.41 339.2L136.8 339.16L137.19 339.55L137.58 339.66L137.97 340.01L138.36 340.35L138.75 340.18L139.14 340.12L139.53 340.12L139.92 340.04L140.31 340.04L140.7 340.27L141.09 340.62L141.48 341.06L141.88 341.28L142.27 341.87L142.66 341.66L143.05 341.57L143.44 341.4L143.83 341.02L144.22 340.56L144.61 341.05L145 340.87L145.4 340.53L145.81 340.91L146.21 340.41L146.61 341.05L147.02 341.8L147.42 341.83L147.82 342.25L148.23 341.9L148.63 341.56L149.03 341.71L149.44 342.18L149.84 342.75L150.24 343.01L150.65 343.26L151.05 343.28L151.45 342.92L151.85 343.2L152.26 342.98L152.66 343.01L153.06 343.2L153.47 343.12L153.87 342.81L154.27 343.02L154.68 342.84L155.08 343.46L155.48 343.66L155.89 343.94L156.29 343.83L156.69 344.12L157.1 344.46L157.5 344.27L157.9 343.89L158.31 343.7L158.71 343.26L159.11 343.66L159.52 344.09L159.92 344.28L160.32 344.15L160.73 344.5L161.13 344.38L161.53 343.97L161.94 343.77L162.34 344.14L162.74 344.45L163.15 344.7L163.55 344.7L163.95 344.55L164.35 344.4L164.76 344.69L165.16 344.75L165.56 344.9L165.97 345.64L166.37 345.28L166.77 345.27L167.18 345.29L167.58 344.94L167.98 345.03L168.39 345.45L168.79 345.64L169.19 345.38L169.6 345.54L170 344.95L170.4 345.26L170.81 345.27L171.21 344.81L171.61 345.21L172.02 345.35L172.42 345.82L172.82 346.4L173.23 346.53L173.63 347.1L174.03 347.65L174.44 347.66L174.84 347.5L175.24 346.97L175.65 347.28L176.05 347.11L176.45 347.69L176.85 347.53L177.26 347.41L177.66 347.81L178.06 347.33L178.47 347.9L178.87 348.07L179.27 347.34L179.68 347.66L180.08 347.55L180.48 347.9L180.89 347.97L181.29 348.33L181.69 348.13L182.1 347.7L182.5 347.86L182.9 347.76L183.31 347.54L183.71 347.86L184.11 347.79L184.52 348.37L184.92 348.76L185.32 348.75L185.73 348.46L186.13 348.42L186.53 348.49L186.94 349.48L187.34 349.09L187.74 349.12L188.15 349.03L188.55 348.78L188.95 349.12L189.35 348.81L189.76 348.22L190.16 348.35L190.56 348.4L190.97 348.31L191.37 348.67L191.77 348.73L192.18 349.39L192.58 350.15L192.98 350.42L193.39 350.21L193.79 350.66L194.19 350.64L194.6 350.49L195 350.98L195.4 350.59L195.8 350.25L196.2 349.79L196.6 349.51L197 349.53L197.4 349.93L197.8 349.69L198.2 349.83L198.6 350.19L199 350.44L199.4 350.78L199.8 350.85L200.2 350.93L200.6 350.94L201 350.89L201.4 350.89L201.8 350.86L202.2 350.87L202.6 351.46L203 350.92L203.4 350.98L203.8 351.03L204.2 350.93L204.6 350.92L205 350.82L205.4 350.73L205.8 351.08L206.2 351.16L206.6 350.74L207 350.46L207.4 349.92L207.8 350.07L208.2 350.05L208.6 350.57L209 350.83L209.4 350.81L209.8 350.6L210.2 350.78L210.6 350.77L211 351.12L211.4 351.47L211.8 351.35L212.2 351.99L212.6 352.25L213 352.35L213.4 352.36L213.8 352.17L214.2 352.44L214.6 352.65L215 352.29L215.41 352.64L215.81 352.43L216.22 352.14L216.62 352.1L217.03 352.28L217.43 352.41L217.84 352.34L218.24 351.96L218.65 352.01L219.05 351.93L219.46 351.62L219.86 351.38L220.27 350.89L220.68 351.24L221.08 351.53L221.49 351.54L221.89 352.23L222.3 351.83L222.7 351.87L223.11 352.23L223.51 352.12L223.92 352.45L224.32 352.08L224.73 351.78L225.14 351.91L225.54 352.09L225.95 352.16L226.35 352.19L226.76 352.4L227.16 352.58L227.57 352.76L227.97 353.22L228.38 353.64L228.78 353.65L229.19 353.46L229.59 353.36L230 353.11L230.41 352.81L230.81 352.85L231.22 352.56L231.62 352.39L232.03 352.68L232.43 352.8L232.84 352.89L233.24 352.77L233.65 352.63L234.06 352.99L234.46 353.11L234.87 352.72L235.27 352.94L235.68 352.41L236.08 352.65L236.49 352.44L236.89 352.23L237.3 352.72L237.71 352.62L238.11 353.31L238.52 352.88L238.92 352.07L239.33 352.58L239.73 352.89L240.14 353.34L240.54 353.84L240.95 353.67L241.36 353.84L241.76 353.75L242.17 353.01L242.57 352.82L242.98 352.71L243.38 352.53L243.79 352.71L244.19 352.38L244.6 352.11L244.6 357.82L244.19 357.63L243.79 357.88L243.38 358.03L242.98 358.06L242.57 357.77L242.17 358.06L241.76 357.72L241.36 357.55L240.95 357.73L240.54 357.66L240.14 357.8L239.73 358.39L239.33 357.74L238.92 357.74L238.52 358.33L238.11 358.06L237.71 357.71L237.3 356.95L236.89 357.05L236.49 357.51L236.08 357.45L235.68 357.45L235.27 356.85L234.87 357.05L234.46 357.48L234.06 357.64L233.65 357.98L233.24 357.61L232.84 358.04L232.43 358.17L232.03 358.47L231.62 358.12L231.22 358.11L230.81 357.86L230.41 357.6L230 357.78L229.59 357.85L229.19 358.39L228.78 358.45L228.38 358.69L227.97 358.44L227.57 358.3L227.16 358.3L226.76 357.93L226.35 357.65L225.95 357.57L225.54 357.79L225.14 358.09L224.73 357.99L224.32 357.86L223.92 357.69L223.51 357.14L223.11 357.35L222.7 357.36L222.3 356.86L221.89 356.92L221.49 356.62L221.08 356.29L220.68 356.76L220.27 356.48L219.86 356.71L219.46 356.81L219.05 356.62L218.65 356.56L218.24 356.48L217.84 356.73L217.43 357.51L217.03 357.57L216.62 357.23L216.22 358.03L215.81 357.63L215.41 357.84L215 357.47L214.6 357.32L214.2 357.43L213.8 357.1L213.4 357.49L213 357.22L212.6 356.97L212.2 357.14L211.8 356.5L211.4 356.89L211 356.62L210.6 356.47L210.2 356.56L209.8 356.4L209.4 357.14L209 357.03L208.6 357.18L208.2 357.11L207.8 356.85L207.4 356.4L207 356.12L206.6 355.7L206.2 355.61L205.8 355.9L205.4 356.24L205 356.94L204.6 356.84L204.2 356.92L203.8 356.61L203.4 356.27L203 356.3L202.6 356.27L202.2 355.65L201.8 355.39L201.4 355.61L201 355.68L200.6 355.58L200.2 355.73L199.8 355.72L199.4 355.44L199 355.33L198.6 354.98L198.2 354.96L197.8 355.21L197.4 355.93L197 355.43L196.6 354.75L196.2 354.8L195.8 354.7L195.4 355.09L195 355.53L194.6 355.51L194.19 355.52L193.79 355.19L193.39 355.01L192.98 354.92L192.58 354.29L192.18 354.47L191.77 353.95L191.37 353.64L190.97 353.75L190.56 353.35L190.16 353.37L189.76 353.9L189.35 354.72L188.95 354.74L188.55 354.11L188.15 353.47L187.74 353.13L187.34 353.78L186.94 353.94L186.53 354.01L186.13 354.34L185.73 353.94L185.32 354.06L184.92 353.23L184.52 352.72L184.11 352.51L183.71 353.01L183.31 352.76L182.9 352.89L182.5 352.24L182.1 352.03L181.69 352.55L181.29 352.98L180.89 353.52L180.48 353.96L180.08 353.45L179.68 353.17L179.27 353.02L178.87 353.18L178.47 353.18L178.06 353.11L177.66 353.21L177.26 352.52L176.85 352.95L176.45 353.09L176.05 352.61L175.65 353.18L175.24 352.73L174.84 352.96L174.44 352.45L174.03 351.99L173.63 351.25L173.23 350.82L172.82 351.01L172.42 350.78L172.02 350.37L171.61 350L171.21 349.9L170.81 350.06L170.4 350.45L170 350.48L169.6 350.49L169.19 350.76L168.79 351.09L168.39 350.99L167.98 351.15L167.58 351.22L167.18 350.69L166.77 350.82L166.37 351.02L165.97 350.82L165.56 350.6L165.16 350.16L164.76 350.09L164.35 350.55L163.95 350.37L163.55 350.18L163.15 350.37L162.74 349.82L162.34 349.59L161.94 349.51L161.53 349.27L161.13 349.02L160.73 349.11L160.32 349.35L159.92 349.23L159.52 349.33L159.11 348.99L158.71 348.31L158.31 349.08L157.9 349.17L157.5 349.41L157.1 349.4L156.69 349.12L156.29 349.3L155.89 349.35L155.48 348.73L155.08 348.68L154.68 348.36L154.27 348.78L153.87 349L153.47 348.75L153.06 348.51L152.66 348.55L152.26 348.87L151.85 349.12L151.45 348.7L151.05 348.83L150.65 348.59L150.24 348.07L149.84 347.99L149.44 347.92L149.03 347.09L148.63 347.24L148.23 347.41L147.82 346.84L147.42 346.64L147.02 346.55L146.61 346.18L146.21 346.54L145.81 346.91L145.4 346.65L145 346.37L144.61 345.82L144.22 345.46L143.83 345.5L143.44 345.93L143.05 346.37L142.66 346.03L142.27 346.79L141.88 346.69L141.48 346.53L141.09 346.28L140.7 345.67L140.31 345.31L139.92 345.08L139.53 344.64L139.14 344.47L138.75 344.17L138.36 344.11L137.97 344.56L137.58 344.61L137.19 344.48L136.8 344.44L136.41 343.92L136.02 344.02L135.62 344.26L135.23 344.45L134.84 344.82L134.45 344.62L134.06 344.58L133.67 344.16L133.28 344.43L132.89 343.74L132.5 343.58L132.11 343.13L131.71 343.24L131.32 343.02L130.93 343.63L130.54 343.88L130.14 343.37L129.75 343.78L129.36 343.54L128.96 343.43L128.57 343.64L128.18 343.59L127.79 342.81L127.39 343.18L127 343.04L126.62 342.55L126.24 342.36L125.85 341.63L125.47 341.12L125.09 341.5L124.71 341.04L124.33 341.05L123.95 340.59L123.56 340.05L123.18 339.43L122.8 339.29Z" fill="#111111" stroke="#111111" stroke-width="0.6" stroke-linejoin="round"/>
<path d="M244.75 357L244.9 342" stroke="#111111" stroke-width="1.6" fill="none"/>
<rect x="71.1" y="39.6" width="396.05" height="373.8" fill="none" stroke="#14a447" stroke-width="1.9"/>
<text x="68.4" y="29.4" font-size="20" fill="#1a1718">短周期与长周期下恒电位仪输出电压波形对比</text>

<text x="467.2" y="29.4" font-size="21" fill="#1a1718">@</text>
<text x="484.4" y="29.4" font-size="20" fill="#1a1718">（不同中断周期下）</text>

<g fill="#1a1718"><text transform="translate(36,279.2) rotate(-90)" font-size="20">输出电压</text></g>
<g fill="#1a1718"><text transform="translate(36,199.2) rotate(-90)" font-size="20">/V</text></g>

<g fill="#1a1718"><text x="633" y="474.1" font-size="20">时间</text></g>
<g fill="#1a1718"><text x="673" y="474.1" font-size="20">/ms</text></g>

<g font-size="16" fill="#1a1718"><text x="71.2" y="442.5" text-anchor="middle">0</text><text x="158.14" y="442.5" text-anchor="middle">2000</text><text x="244.38" y="442.5" text-anchor="middle">4000</text><text x="330.62" y="442.5" text-anchor="middle">6000</text><text x="416.86" y="442.5" text-anchor="middle">8000</text><text x="503.1" y="442.5" text-anchor="middle">10000</text><text x="589.34" y="442.5" text-anchor="middle">12000</text><text x="675.58" y="442.5" text-anchor="middle">14000</text><text x="60.6" y="346.31" text-anchor="end">10</text><text x="60.6" y="265.94" text-anchor="end">20</text><text x="60.6" y="185.57" text-anchor="end">30</text><text x="60.6" y="105.2" text-anchor="end">40</text></g>
<path d="M495.9 63.6H516.5" stroke="#1b45ae" stroke-width="1.4"/>
<g fill="#1a1718"><text x="516.6" y="67.4" font-size="13.33">15s</text><text x="535.3" y="67.4" font-size="13.33">周期</text></g>

<path d="M562.8 63.6H583.7" stroke="#111111" stroke-width="1.4"/>
<g fill="#1a1718"><text x="584" y="67.4" font-size="13.33">4s</text><text x="596" y="67.4" font-size="13.33">周期</text></g>

<path d="M624.0 63.6H645.3" stroke="#ee1c24" stroke-width="1.4"/>
<g fill="#1a1718"><text x="647" y="67.4" font-size="13.33">1s</text><text x="659" y="67.4" font-size="13.33">周期</text></g>

<g fill="#1a1718" font-size="20"><text x="478" y="121.8">高频开关型恒电位仪</text></g>

<g fill="#1a1718" font-size="20"><text x="478" y="145.5">型号：</text></g>
<g fill="#1a1718"><text x="537.2" y="145.5" font-size="20">IHF</text></g>

<g fill="#1a1718" font-size="20"><text x="478" y="169.2">额定输出：</text></g>
<g fill="#1a1718"><text x="577.2" y="169.2" font-size="20">20 A/40 V</text></g>

<g fill="#1a1718" font-size="20"><text x="478" y="192.9">工作模式：恒位</text></g>

<g fill="#1a1718" font-size="20"><text x="478" y="216.6">输出电流：</text></g>
<g fill="#1a1718"><text x="577.2" y="216.6" font-size="20">1.145 A</text></g>

<g fill="#1a1718" font-size="20"><text x="478" y="240.3">输出电压：</text></g>
<g fill="#1a1718"><text x="577.2" y="240.3" font-size="20">7.337 V</text></g>

<g fill="#1a1718" font-size="20"><text x="478" y="264">控制电位：</text></g>
<g fill="#1a1718"><text x="577.2" y="264" font-size="20">-1750 mV</text></g>

</svg>
</body></html>
